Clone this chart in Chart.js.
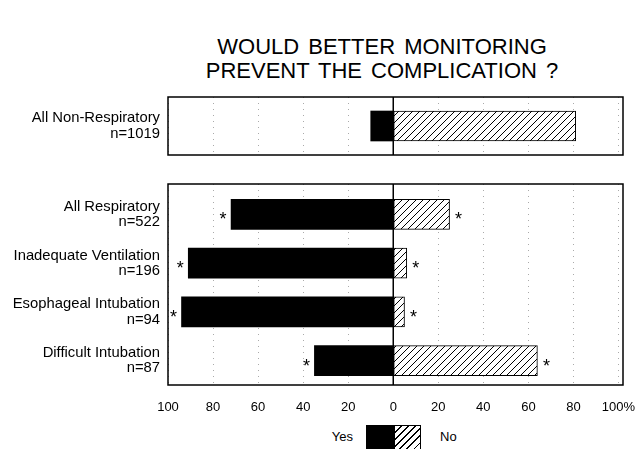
<!DOCTYPE html>
<html>
<head>
<meta charset="utf-8">
<script src="https://cdn.jsdelivr.net/npm/chart.js@4"></script>
<style>
  body { margin: 0; background: #fff; width: 640px; height: 449px; overflow: hidden; position: relative;
         font-family: "Liberation Sans", Arial, sans-serif; color: #000; }
  #title { position: absolute; left: 132px; width: 500px; top: 35px; text-align: center;
           font-size: 22px; line-height: 24px; word-spacing: 3px; }
  canvas { position: absolute; left: 0; }
  #topChart { top: 90px; }
  #mainChart { top: 175px; }
  .leg { position: absolute; font-size: 13px; line-height: 15px; top: 429px; }
  #swYes { position: absolute; left: 366px; top: 425px; width: 28px; height: 30px; background: #000; }
  #swNo { position: absolute; left: 394px; top: 425px; width: 27px; height: 30px; box-sizing: border-box;
          border: 1px solid #000;
          background: repeating-linear-gradient(135deg, #fff 0 4px, #000 4px 5px); }
</style>
</head>
<body>
<div id="title">WOULD BETTER MONITORING<br>PREVENT THE COMPLICATION ?</div>
<canvas id="topChart" width="640" height="70" style="width:640px;height:70px"></canvas>
<canvas id="mainChart" width="640" height="245" style="width:640px;height:245px"></canvas>
<span class="leg" style="right:287px">Yes</span>
<div id="swYes"></div>
<div id="swNo"></div>
<span class="leg" style="left:440px">No</span>
<script>
// top panel
const topLabels = [['All Non-Respiratory', 'n=1019']];
const topYes = [10];
const topNo = [81];
const topStars = [false];

// respiratory panel
const labels = [
  ['All Respiratory', 'n=522'],
  ['Inadequate Ventilation', 'n=196'],
  ['Esophageal Intubation', 'n=94'],
  ['Difficult Intubation', 'n=87']
];
const yesValues = [72, 91, 94, 35];
const noValues = [25, 6, 5, 64];
const stars = [true, true, true, true];

const xTicks = [-100, -80, -60, -40, -20, 0, 20, 40, 60, 80, 100];

Chart.defaults.font.family = '"Liberation Sans", Arial, sans-serif';
Chart.defaults.color = '#000';

function hatch() {
  const c = document.createElement('canvas');
  c.width = 7; c.height = 7;
  const g = c.getContext('2d');
  g.fillStyle = '#fff';
  g.fillRect(0, 0, 7, 7);
  g.strokeStyle = '#000';
  g.lineWidth = 1;
  g.beginPath();
  g.moveTo(0, 7); g.lineTo(7, 0);
  g.moveTo(-1, 1); g.lineTo(1, -1);
  g.moveTo(6, 8); g.lineTo(8, 6);
  g.stroke();
  return g.createPattern(c, 'repeat');
}
const hatchPattern = hatch();

// box round the plot, zero line and the asterisks
const framePlugin = {
  id: 'frame',
  afterDatasetsDraw(chart, args, opts) {
    const { ctx, chartArea: a, scales: { x } } = chart;
    const top = a.top - (opts.extraTop || 0);
    ctx.save();
    // carry the dotted grid up into the extra strip
    if (opts.extraTop) {
      ctx.strokeStyle = '#aaa';
      ctx.lineWidth = 1;
      ctx.setLineDash([1, 5]);
      x.ticks.forEach(t => {
        if (t.value === 0) return;
        const px = Math.round(x.getPixelForValue(t.value)) + 0.5;
        ctx.beginPath(); ctx.moveTo(px, top); ctx.lineTo(px, a.top); ctx.stroke();
      });
      ctx.setLineDash([]);
    }
    ctx.strokeStyle = '#000';
    ctx.lineWidth = 1.5;
    ctx.strokeRect(a.left, top, a.right - a.left, a.bottom - top);
    const z = x.getPixelForValue(0);
    ctx.beginPath(); ctx.moveTo(z, top); ctx.lineTo(z, a.bottom); ctx.stroke();

    const st = opts.stars || [];
    const m0 = chart.getDatasetMeta(0), m1 = chart.getDatasetMeta(1);
    ctx.fillStyle = '#000';
    ctx.font = '18px "Liberation Sans", Arial, sans-serif';
    ctx.textAlign = 'center';
    ctx.textBaseline = 'alphabetic';
    st.forEach((s, i) => {
      if (!s) return;
      const b0 = m0.data[i], b1 = m1.data[i];
      ctx.fillText('*', b0.x - 8, b0.y + 11);
      ctx.fillText('*', b1.x + 9, b1.y + 11);
    });
    ctx.restore();
  }
};

function makeChart(id, cats, yes, no, st, padTop, padBottom, extraTop, axisH, showTicks) {
  return new Chart(document.getElementById(id), {
    type: 'bar',
    data: {
      labels: cats,
      datasets: [
        { label: 'Yes', data: yes.map(v => -v), backgroundColor: '#000', borderWidth: 0, barThickness: 30 },
        { label: 'No', data: no, backgroundColor: hatchPattern, borderColor: '#000', borderWidth: 1,
          borderSkipped: false, barThickness: 30 }
      ]
    },
    options: {
      indexAxis: 'y',
      responsive: false,
      animation: false,
      layout: { padding: { left: 0, right: 17, top: padTop, bottom: padBottom } },
      plugins: {
        legend: { display: false },
        tooltip: { enabled: false },
        frame: { stars: st, extraTop: extraTop }
      },
      scales: {
        x: {
          type: 'linear',
          stacked: true,
          min: -100,
          max: 102,
          afterBuildTicks: s => { s.ticks = xTicks.map(v => ({ value: v })); },
          grid: { color: c => (c.tick && c.tick.value === 0) ? 'rgba(0,0,0,0)' : '#aaa', drawTicks: false, lineWidth: 1 },
          border: { display: false, dash: [1, 5] },
          ticks: {
            display: showTicks,
            padding: 15,
            font: { size: 13 },
            callback: v => v === 100 ? '100%' : String(Math.abs(v))
          },
          afterFit: s => { s.height = axisH; s.paddingLeft = 0; s.paddingRight = 0; }
        },
        y: {
          stacked: true,
          grid: { display: false, drawTicks: false },
          border: { display: false },
          ticks: { padding: 8, font: { size: 14.8, lineHeight: 1.03 } },
          afterFit: s => { s.width = 168; s.paddingTop = 0; s.paddingBottom = 0; }
        }
      }
    },
    plugins: [framePlugin]
  });
}

makeChart('topChart', topLabels, topYes, topNo, topStars, 7, 5, 0, 0, false);
makeChart('mainChart', labels, yesValues, noValues, stars, 15, 0, 6, 35, true);
</script>
</body>
</html>
